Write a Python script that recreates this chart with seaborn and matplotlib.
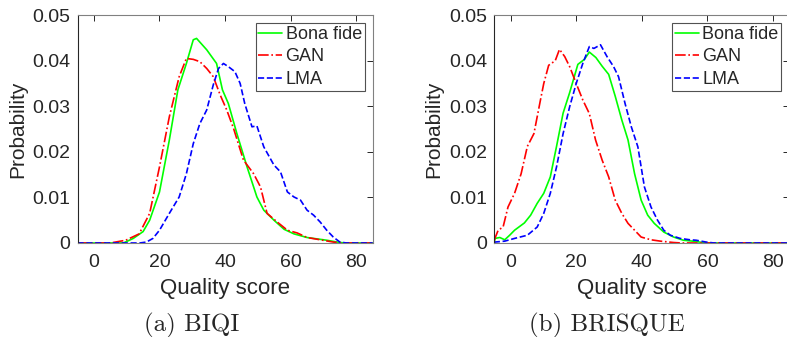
import numpy as np
import pandas as pd
import matplotlib
matplotlib.use("Agg")
import matplotlib.pyplot as plt
import seaborn as sns

# --- data (quality score vs probability) ---
biqi_bona_x = [-5, 9, 12, 15, 17, 20, 23, 25.6, 28.2, 30.3, 31.3, 34.4, 37.4, 39.2, 41, 43.6, 46.7, 49.7, 51.8, 54.9, 58, 61, 65, 71, 75, 77, 85]
biqi_bona_y = [0, 0, 0.001, 0.0025, 0.005, 0.0112, 0.0226, 0.0336, 0.0394, 0.0446, 0.0449, 0.0424, 0.0394, 0.0336, 0.0306, 0.024, 0.0167, 0.0101, 0.0072, 0.005, 0.003, 0.002, 0.0012, 0.0006, 0.0001, 0, 0]

biqi_gan_x = [-5, 5, 9.7, 13.8, 17, 20, 23, 26, 28.2, 30.3, 32.3, 34.4, 36.4, 38.5, 40.5, 42.6, 45.6, 48.7, 50.8, 52.8, 55.9, 59, 62, 65, 69, 73, 76, 85]
biqi_gan_y = [0, 0, 0.0006, 0.002, 0.0065, 0.0167, 0.0277, 0.0365, 0.0405, 0.0403, 0.0398, 0.0383, 0.0365, 0.0325, 0.0292, 0.0251, 0.0182, 0.0152, 0.0123, 0.0065, 0.0046, 0.0028, 0.0022, 0.0012, 0.0007, 0.0002, 0, 0]

biqi_lma_x = [-5, 14, 16, 18, 20, 23, 26, 28.2, 30.3, 32.3, 34.4, 36.4, 38, 39.5, 41, 43, 44.6, 46, 48.2, 49.7, 51.8, 54.9, 56.9, 59, 61, 63, 65, 67, 69, 71, 73, 75, 77, 85]
biqi_lma_y = [0, 0, 0.0002, 0.001, 0.0028, 0.0065, 0.0101, 0.0152, 0.0218, 0.0262, 0.0292, 0.0347, 0.0383, 0.0394, 0.0387, 0.0376, 0.035, 0.0306, 0.0255, 0.0257, 0.0211, 0.0171, 0.0156, 0.0112, 0.0101, 0.0094, 0.0072, 0.0061, 0.0046, 0.0028, 0.0013, 0.0002, 0, 0]

brisque_bona_x = [-5, -4.8, -3.3, -1.8, -0.3, 1.2, 4.2, 6.1, 8.1, 10.1, 12.1, 14, 16, 18, 20.5, 22.5, 24, 26, 27.9, 29.9, 31.9, 33.9, 35.8, 37.8, 39.8, 41.8, 43.8, 46.7, 49.7, 52.7, 55.6, 58.6, 61, 85]
brisque_bona_y = [0, 0.001, 0.0012, 0.0007, 0.0017, 0.0028, 0.0044, 0.0061, 0.0087, 0.0109, 0.0145, 0.0212, 0.0285, 0.033, 0.0392, 0.0403, 0.0419, 0.0407, 0.0388, 0.037, 0.0322, 0.027, 0.0226, 0.0152, 0.0094, 0.0061, 0.0043, 0.0024, 0.0013, 0.0006, 0.0004, 0.0001, 0, 0]

brisque_gan_x = [-5, -4.8, -3.8, -2.3, -0.8, 1.2, 3.2, 5.1, 7.1, 9.1, 10.1, 11.6, 13.6, 14.9, 16.5, 18, 20, 22, 24, 25.9, 27.9, 29.9, 31.9, 33.9, 35.8, 37.8, 39.8, 42.8, 45.7, 49.7, 52, 85]
brisque_gan_y = [0.0005, 0.001, 0.0028, 0.0035, 0.0079, 0.0109, 0.0152, 0.0212, 0.024, 0.0314, 0.035, 0.039, 0.04, 0.0425, 0.0409, 0.0387, 0.035, 0.0314, 0.0284, 0.0226, 0.0182, 0.0145, 0.0094, 0.0065, 0.0043, 0.0028, 0.0013, 0.0007, 0.0004, 0.0001, 0, 0]

brisque_lma_x = [-5, -4.8, -1.8, 1.2, 5.1, 8.1, 10.1, 12.1, 14, 16, 18, 20, 22, 24, 25.4, 27.4, 29.4, 31.4, 32.9, 34.9, 36.8, 38.8, 40.8, 42.8, 44.8, 46.7, 48.7, 51.7, 54.7, 56.6, 59.6, 62, 85]
brisque_lma_y = [0, 0.0002, 0.0004, 0.001, 0.0017, 0.0035, 0.0065, 0.0109, 0.0167, 0.024, 0.0299, 0.035, 0.0394, 0.0431, 0.0427, 0.0435, 0.0409, 0.0387, 0.0365, 0.0306, 0.0255, 0.0211, 0.0123, 0.0079, 0.005, 0.0028, 0.0017, 0.001, 0.0007, 0.0006, 0.0002, 0, 0]

series_names = ["Bona fide", "GAN", "LMA"]
line_colors = ["#00ff00", "#ff0000", "#0000ff"]
line_styles = ["-", "-.", "--"]
x_ticks = [0, 20, 40, 60, 80]
y_ticks = [0, 0.01, 0.02, 0.03, 0.04, 0.05]
y_tick_labels = ["0", "0.01", "0.02", "0.03", "0.04", "0.05"]
captions = ["(a) BIQI", "(b) BRISQUE"]

sns.set_style("white")
plt.rcParams["font.family"] = ["Liberation Sans", "DejaVu Sans"]

fig = plt.figure(figsize=(7.87, 3.37), dpi=100)
ax1 = fig.add_axes([0.0985, 0.279, 0.375, 0.676])
ax2 = fig.add_axes([0.628, 0.279, 0.375, 0.676])

panels = [
    (ax1, [(biqi_bona_x, biqi_bona_y), (biqi_gan_x, biqi_gan_y), (biqi_lma_x, biqi_lma_y)]),
    (ax2, [(brisque_bona_x, brisque_bona_y), (brisque_gan_x, brisque_gan_y), (brisque_lma_x, brisque_lma_y)]),
]

for ax, curves in panels:
    for (xs, ys), name, col, ls in zip(curves, series_names, line_colors, line_styles):
        df = pd.DataFrame({"score": xs, "prob": ys})
        sns.lineplot(data=df, x="score", y="prob", ax=ax, color=col, linestyle=ls,
                     linewidth=1.2, label=name, estimator=None, sort=False)
    ax.set_xlim(-5, 85)
    ax.set_ylim(0, 0.05)
    ax.set_xticks(x_ticks)
    ax.set_yticks(y_ticks)
    ax.set_yticklabels(y_tick_labels)
    ax.tick_params(direction="in", top=True, right=True, length=4, width=0.7,
                   labelsize=14, colors="#262626", pad=5)
    ax.tick_params(axis="x", pad=8)
    ax.set_xlabel("Quality score", fontsize=16, color="#262626", labelpad=5)
    ax.set_ylabel("Probability", fontsize=15, color="#262626", labelpad=4)
    for side, sp in ax.spines.items():
        sp.set_visible(True)
        sp.set_linewidth(0.8)
        sp.set_color("#262626" if side == "left" else "#808080")
    leg = ax.legend(loc="upper right", fontsize=13, frameon=True, fancybox=False,
                    borderpad=0.15, labelspacing=0.3, handlelength=1.3, handletextpad=0.2,
                    borderaxespad=0.45)
    leg.get_frame().set_edgecolor("#262626")
    leg.get_frame().set_linewidth(0.8)

fig.text(0.244, 0.035, captions[0], fontsize=18, family="cmr10", ha="center", va="center")
fig.text(0.771, 0.035, captions[1], fontsize=18, family="cmr10", ha="center", va="center")

fig.savefig("out.png", dpi=100)
